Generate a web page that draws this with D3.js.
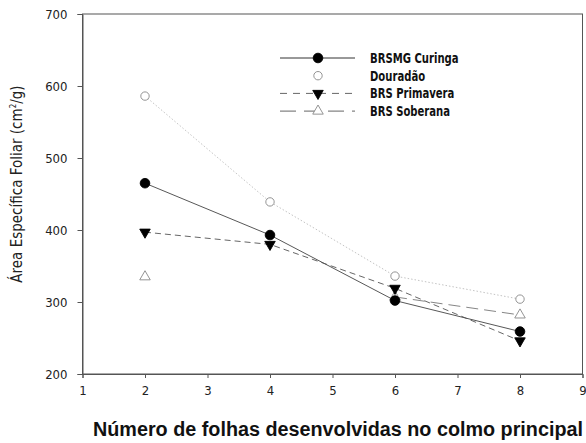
<!DOCTYPE html>
<html><head><meta charset="utf-8">
<script src="https://cdn.jsdelivr.net/npm/d3@7"></script>
<style>body{margin:0;background:#fff}svg{display:block}</style>
</head><body>
<svg id="c" width="586" height="443"></svg>
<script>
const xVals = [2, 4, 6, 8];
const seriesNames = ["BRSMG Curinga", "Douradão", "BRS Primavera", "BRS Soberana"];
const curinga = [465, 393, 302, 259];
const dourado = [586, 439, 336, 304];
const primavera = [397, 380, 319, 246];
const soberana = [335, null, 307, 282];
const xTicks = [1, 2, 3, 4, 5, 6, 7, 8, 9];
const yTicks = [200, 300, 400, 500, 600, 700];

const svg = d3.select("#c");
const L = 82.5, R = 582.5, T = 14, B = 374;
const x = d3.scaleLinear().domain([1, 9]).range([L, R]);
const y = d3.scaleLinear().domain([200, 700]).range([B, T]);
const font = "'DejaVu Sans Condensed','Liberation Sans',Arial,sans-serif";

svg.append("rect").attr("x", L).attr("y", T).attr("width", R - L).attr("height", B - T)
  .attr("fill", "none").attr("stroke", "#555").attr("stroke-width", 1);

const ax = svg.append("g").attr("transform", `translate(0,${B})`)
  .call(d3.axisBottom(x).tickValues(xTicks).tickSize(4).tickPadding(8).tickFormat(d3.format("d")));
const ay = svg.append("g").attr("transform", `translate(${L},0)`)
  .call(d3.axisLeft(y).tickValues(yTicks).tickSize(5).tickPadding(10).tickFormat(d3.format("d")));
[ax, ay].forEach(a => {
  a.select(".domain").attr("stroke", "#555");
  a.selectAll(".tick line").attr("stroke", "#555");
  a.selectAll(".tick text").attr("font-family", font).attr("font-size", 13).attr("fill", "#222");
});

const styles = [
  {data: curinga, stroke: "#444", dash: null, w: 0.9, marker: "circle", fill: "#000"},
  {data: dourado, stroke: "#c4c4c4", dash: "1.5,2", w: 1, marker: "circle", fill: "#fff"},
  {data: primavera, stroke: "#555", dash: "6,4", w: 0.9, marker: "down", fill: "#000"},
  {data: soberana, stroke: "#777", dash: "12,6", w: 0.9, marker: "up", fill: "#fff"}
];

const line = d3.line().defined(d => d[1] != null).x(d => x(d[0])).y(d => y(d[1]));
function drawMarker(g, type, cx, cy, fill) {
  const filled = fill === "#000";
  if (type === "circle") {
    g.append("circle").attr("cx", cx).attr("cy", cy).attr("r", filled ? 4.8 : 4.2)
      .attr("fill", fill).attr("stroke", filled ? "#000" : "#888").attr("stroke-width", 0.9);
  } else {
    const sym = d3.symbol().type(d3.symbolTriangle).size(48);
    g.append("path").attr("d", sym()).attr("transform", `translate(${cx},${cy}) rotate(${type === "down" ? 180 : 0})`)
      .attr("fill", fill).attr("stroke", filled ? "#000" : "#888").attr("stroke-width", 0.9);
  }
}

styles.forEach(s => {
  const pts = xVals.map((v, i) => [v, s.data[i]]);
  svg.append("path").attr("d", line(pts)).attr("fill", "none").attr("stroke", s.stroke)
    .attr("stroke-width", s.w).attr("stroke-dasharray", s.dash);
});
[3, 1, 2, 0].forEach(k => {
  const s = styles[k];
  const g = svg.append("g");
  xVals.forEach((v, i) => { if (s.data[i] != null) drawMarker(g, s.marker, x(v), y(s.data[i]), s.fill); });
});

// legend
const lg = svg.append("g");
const legDash = [null, null, "7,6", "16,8"];
seriesNames.forEach((n, i) => {
  const yy = 58 + i * 17.7;
  const s = styles[i];
  if (i !== 1) {
    lg.append("line").attr("x1", 280).attr("x2", 355).attr("y1", yy).attr("y2", yy)
      .attr("stroke", i === 0 ? "#333" : "#666").attr("stroke-width", 1)
      .attr("stroke-dasharray", legDash[i]);
  }
  drawMarker(lg, s.marker, 318, yy, s.fill);
  const t = lg.append("text").attr("x", 0).attr("y", 0).attr("font-family", font)
    .attr("font-size", 14).attr("font-weight", "bold").attr("fill", "#111").text(n);
  t.attr("transform", `translate(370,${yy + 5}) scale(0.8,1)`);
});

// axis titles
svg.append("text").attr("transform", `translate(22,184) rotate(-90)`)
  .attr("text-anchor", "middle").attr("font-family", font).attr("font-size", 15).attr("fill", "#222")
  .html("Área Específica Foliar (cm<tspan dy='-6' font-size='8'>2</tspan><tspan dy='6'>/g)</tspan>");
svg.append("text").attr("x", 338).attr("y", 436).attr("text-anchor", "middle")
  .attr("font-family", "'Liberation Sans',Arial,sans-serif").attr("font-size", 19.5).attr("font-weight", "bold")
  .attr("textLength", 490).attr("lengthAdjust", "spacingAndGlyphs")
  .attr("fill", "#111").text("Número de folhas desenvolvidas no colmo principal");
</script>
</body></html>
